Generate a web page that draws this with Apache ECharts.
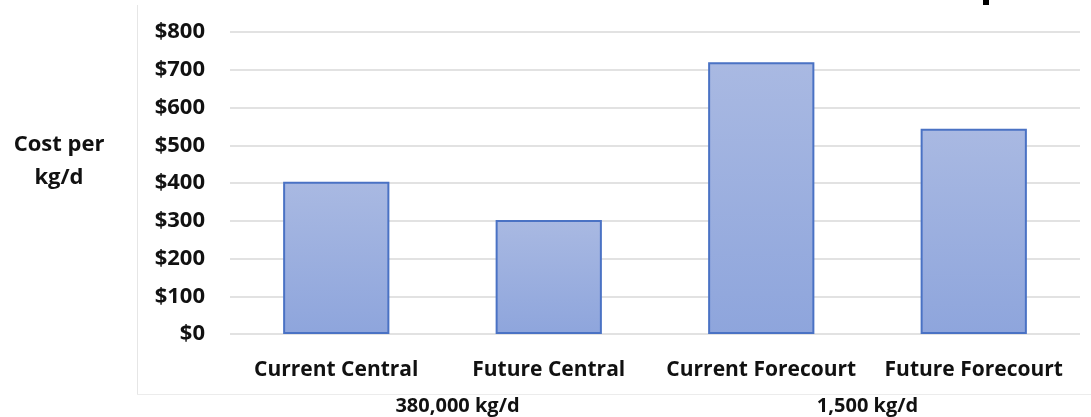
<!DOCTYPE html>
<html>
<head>
<meta charset="utf-8">
<script src="https://cdn.jsdelivr.net/npm/echarts@6/dist/echarts.min.js"></script>
<style>
html,body{margin:0;padding:0;background:#fff;}
#c{width:1091px;height:417px;}
</style>
</head>
<body>
<div id="c"></div>
<script>
var categories = ['Current Central', 'Future Central', 'Current Forecourt', 'Future Forecourt'];
var costs = [403, 302, 720, 544];
var groupLabels = ['380,000 kg/d', '1,500 kg/d'];
var yTicks = [0, 100, 200, 300, 400, 500, 600, 700, 800];
var yTitle = 'Cost per\nkg/d';

var FONT = '"Open Sans", "Liberation Sans", sans-serif';
var chart = echarts.init(document.getElementById('c'), null, {renderer: 'canvas'});
chart.setOption({
  animation: false,
  backgroundColor: '#ffffff',
  grid: {left: 230, right: 11, top: 32, bottom: 83, containLabel: false, outerBoundsMode: 'none'},
  xAxis: [{
    type: 'category',
    data: categories,
    position: 'bottom',
    axisLine: {show: false},
    axisTick: {show: false},
    axisLabel: {interval: 0, color: '#111', fontFamily: FONT, fontWeight: 'bold', fontSize: 21, margin: 26}
  }, {
    type: 'category',
    data: [{value: groupLabels[0], textStyle: {padding: [0, 0, 0, 30]}}, groupLabels[1]],
    position: 'bottom',
    offset: 36,
    axisLine: {show: false},
    axisTick: {show: false},
    axisLabel: {interval: 0, color: '#111', fontFamily: FONT, fontWeight: 'bold', fontSize: 20, margin: 26}
  }],
  yAxis: {
    type: 'value',
    min: yTicks[0],
    max: yTicks[yTicks.length - 1],
    interval: 100,
    axisLine: {show: false},
    axisTick: {show: false},
    splitLine: {lineStyle: {color: '#d9d9d9', width: 1.5}},
    axisLabel: {
      color: '#111', fontFamily: FONT, fontWeight: 'bold', fontSize: 22, margin: 25,
      formatter: function (v) { return '$' + v; }
    }
  },
  graphic: [
    {type: 'line', shape: {x1: 137.5, y1: 5, x2: 137.5, y2: 395}, style: {stroke: '#e6e6e6', lineWidth: 1}, silent: true},
    {type: 'line', shape: {x1: 137, y1: 394.5, x2: 1091, y2: 394.5}, style: {stroke: '#ececec', lineWidth: 1}, silent: true},
    {type: 'rect', shape: {x: 983, y: 0, width: 6, height: 5}, style: {fill: '#000'}, silent: true},
    {type: 'text', x: 59, y: 161, style: {text: yTitle, fill: '#111', font: 'bold 22px ' + FONT, textAlign: 'center', textVerticalAlign: 'middle', lineHeight: 33}, silent: true}
  ],
  series: [{
    type: 'bar',
    data: costs,
    barWidth: '50%',
    itemStyle: {
      color: new echarts.graphic.LinearGradient(0, 0, 0, 1, [
        {offset: 0, color: '#a9b9e2'},
        {offset: 1, color: '#8ea5dc'}
      ]),
      borderColor: '#4a72c4',
      borderWidth: 2
    }
  }]
});
</script>
</body>
</html>
